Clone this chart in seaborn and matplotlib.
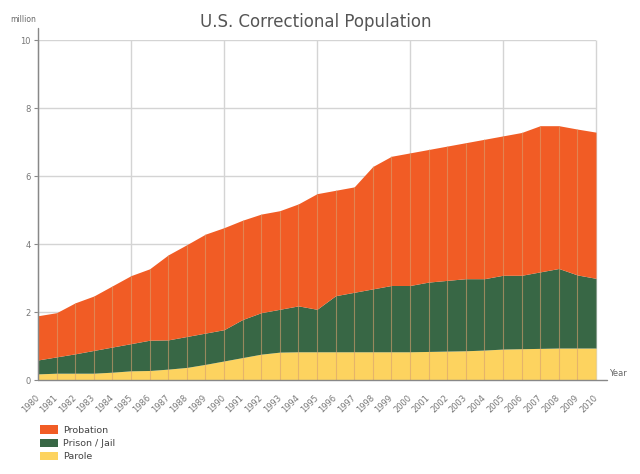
import numpy as np
import pandas as pd
import seaborn as sns
import matplotlib.pyplot as plt
from matplotlib.patches import Patch

# values in million
years = list(range(1980, 2011))
parole = [0.18, 0.20, 0.20, 0.20, 0.23, 0.27, 0.28, 0.32, 0.37, 0.46,
          0.56, 0.66, 0.76, 0.82, 0.83, 0.83, 0.83, 0.83, 0.83, 0.83,
          0.83, 0.84, 0.85, 0.86, 0.88, 0.91, 0.92, 0.93, 0.94, 0.94,
          0.94]
prison = [0.41, 0.48, 0.57, 0.67, 0.74, 0.80, 0.89, 0.86, 0.91, 0.92,
          0.92, 1.12, 1.22, 1.26, 1.35, 1.25, 1.65, 1.75, 1.85, 1.95,
          1.95, 2.04, 2.08, 2.12, 2.10, 2.17, 2.16, 2.25, 2.34, 2.15,
          2.05]
probation = [1.30, 1.30, 1.50, 1.60, 1.80, 2.00, 2.10, 2.50, 2.70, 2.91,
             3.00, 2.92, 2.90, 2.90, 3.00, 3.40, 3.10, 3.10, 3.60, 3.80,
             3.90, 3.90, 3.95, 4.00, 4.10, 4.10, 4.20, 4.30, 4.20, 4.29,
             4.30]
grid_years = list(range(1980, 2011, 5))
series_names = ['Parole', 'Prison / Jail', 'Probation']
series_colors = ['#FDD35F', '#386745', '#F15C25']

df = pd.DataFrame({'year': years, 'Parole': parole,
                   'Prison / Jail': prison, 'Probation': probation})
df['total'] = df[series_names].sum(axis=1)

sns.set_theme(style='white')
plt.rcParams['font.family'] = ['DejaVu Sans']

fig = plt.figure(figsize=(6.4, 4.74), dpi=100)
ax = fig.add_axes([38/640, 1-380/474, 558/640, 340/474])

ax.stackplot(df['year'], df['Parole'], df['Prison / Jail'], df['Probation'],
             colors=series_colors, linewidth=0, zorder=2)
# thin year separators inside the areas
ax.vlines(df['year'], 0, df['total'], colors='#D8A070', alpha=0.6,
          lw=0.8, zorder=3)

ax.set_xlim(1980, 2010)
ax.set_ylim(0, 10)
ax.set_xticks(years)
ax.set_yticks([0, 2, 4, 6, 8, 10])
# background grid: every 5 years and every 2 million
ax.vlines(grid_years, 0, 10, colors='#d4d4d4', lw=1, zorder=1,
          clip_on=False)
ax.yaxis.grid(True, color='#d4d4d4', lw=1, zorder=1)
ax.set_axisbelow(True)
sns.despine(ax=ax, left=True, bottom=True)

ax.set_xticklabels([str(y) for y in years], rotation=45, ha='right',
                   va='center', rotation_mode='anchor', fontsize=6,
                   color='#777777')
ax.tick_params(axis='x', which='both', length=0, pad=12)
ax.tick_params(axis='y', length=3, width=0.8, color='#888888', pad=2,
               labelsize=6, labelcolor='#777777', direction='out', left=True)

# axis lines that run a little past the plot area
ax.plot([0, 0], [0, 1.035], transform=ax.transAxes, color='#888888',
        lw=1, clip_on=False, zorder=5)
ax.plot([0, 1.02], [0, 0], transform=ax.transAxes, color='#888888',
        lw=1, clip_on=False, zorder=5)

fig.text(0.493, 0.953, 'U.S. Correctional Population', ha='center',
         va='center', fontsize=12, color='#555555')
fig.text(23/640, 1-20/474, 'million', ha='center', va='center',
         fontsize=5.5, color='#666666')
fig.text(618/640, 1-373/474, 'Year', ha='center', va='center',
         fontsize=6, color='#666666')

handles = [Patch(facecolor=c, edgecolor='none')
           for c in series_colors[::-1]]
fig.legend(handles, series_names[::-1], loc='upper left',
           bbox_to_anchor=(0.062, 0.103), frameon=False, fontsize=6.8,
           handlelength=1.9, handleheight=1.0, labelspacing=0.42,
           handletextpad=0.6, borderaxespad=0, borderpad=0,
           labelcolor='#444444')

fig.savefig('out.png', dpi=100)
